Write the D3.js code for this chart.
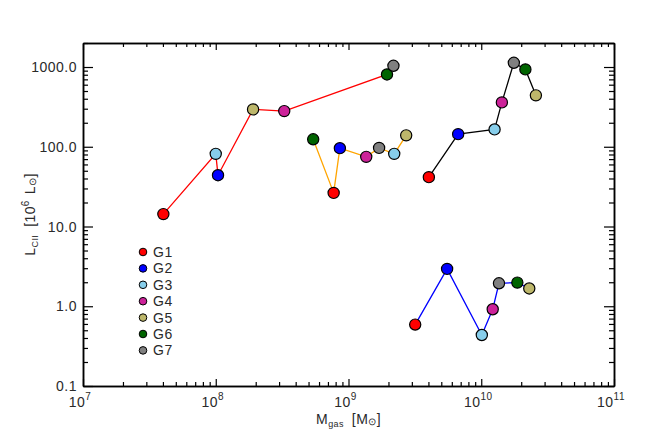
<!DOCTYPE html>
<html>
<head>
<meta charset="utf-8">
<script src="https://cdn.jsdelivr.net/npm/d3@7"></script>
<style>
	body { margin: 0; background: #fff; }
	text { font-family: "Liberation Sans", Arial, sans-serif; fill: #2a2a2a; }
</style>
</head>
<body>
<div id="graph"></div>
<script>
// Galaxies G1..G7, four runs each (one line per run)
const groups = ["G1", "G2", "G3", "G4", "G5", "G6", "G7"];
const groupColors = ["#FF0000", "#0000FF", "#87CEEB", "#CC2299", "#BDB76B", "#006400", "#808080"];

const lineColors = ["#FF0000", "#FFA500", "#000000", "#0000FF"];

// gas mass [Msun], in group order
const mass_1 = [4.03e7, 1.04e8, 1.0e8, 3.28e8, 1.91e8, 1.95e9, 2.18e9];
const mass_2 = [7.73e8, 8.61e8, 2.21e9, 1.36e9, 2.72e9, 5.42e8, 1.70e9];
const mass_3 = [4.03e9, 6.7e9, 1.26e10, 1.43e10, 2.58e10, 2.15e10, 1.76e10];
const mass_4 = [3.18e9, 5.53e9, 1.01e10, 1.22e10, 2.30e10, 1.87e10, 1.36e10];

// L_CII [1e6 Lsun], in group order
const lcii_1 = [14.3, 44, 81.5, 280, 294, 807, 1035];
const lcii_2 = [26.4, 96, 81.5, 74.7, 139, 124, 96.8];
const lcii_3 = [41.6, 144, 165, 360, 441, 933, 1130];
const lcii_4 = [0.589, 2.94, 0.436, 0.917, 1.67, 1.98, 1.94];

const xTicks = [1e7, 1e8, 1e9, 1e10, 1e11];
const yTicks = [0.1, 1, 10, 100, 1000];

const width = 664, height = 442;
const margin = {top: 43, right: 50, bottom: 56, left: 83};

let svg = d3.select("#graph")
	.append("svg")
	.attr("width", width)
	.attr("height", height);

let x = d3.scaleLog().domain([1e7, 1e11]).range([margin.left, width - margin.right]);
let y = d3.scaleLog().domain([0.1, 2000]).range([height - margin.bottom, margin.top]);

// minor ticks 2..9 in every decade
function minors(lo, hi) {
	let out = [];
	for (let d = lo; d < hi; d *= 10) {
		for (let k = 2; k <= 9; k++) {
			if (d * k <= hi) out.push(d * k);
		}
	}
	return out;
}
let xMinor = minors(1e7, 1e11);
let yMinor = minors(0.1, 2000);

function styleAxis(g) {
	g.select(".domain").attr("stroke", "#000").attr("stroke-width", 1.5);
	g.selectAll(".tick line").attr("stroke", "#000").attr("stroke-width", 1.2);
}

let x0 = height - margin.bottom, y0 = margin.top;
let xl = margin.left, xr = width - margin.right;

// bottom + top
svg.append("g").attr("transform", "translate(0," + x0 + ")")
	.call(d3.axisBottom(x).tickValues(xTicks).tickSize(-7).tickSizeOuter(0).tickFormat(""))
	.call(styleAxis);
svg.append("g").attr("transform", "translate(0," + x0 + ")")
	.call(d3.axisBottom(x).tickValues(xMinor).tickSize(-4).tickSizeOuter(0).tickFormat(""))
	.call(styleAxis);
svg.append("g").attr("transform", "translate(0," + y0 + ")")
	.call(d3.axisTop(x).tickValues(xTicks).tickSize(-7).tickSizeOuter(0).tickFormat(""))
	.call(styleAxis);
svg.append("g").attr("transform", "translate(0," + y0 + ")")
	.call(d3.axisTop(x).tickValues(xMinor).tickSize(-4).tickSizeOuter(0).tickFormat(""))
	.call(styleAxis);

// left + right
svg.append("g").attr("transform", "translate(" + xl + ",0)")
	.call(d3.axisLeft(y).tickValues(yTicks).tickSize(-10).tickSizeOuter(0).tickFormat(""))
	.call(styleAxis);
svg.append("g").attr("transform", "translate(" + xl + ",0)")
	.call(d3.axisLeft(y).tickValues(yMinor).tickSize(-5).tickSizeOuter(0).tickFormat(""))
	.call(styleAxis);
svg.append("g").attr("transform", "translate(" + xr + ",0)")
	.call(d3.axisRight(y).tickValues(yTicks).tickSize(-10).tickSizeOuter(0).tickFormat(""))
	.call(styleAxis);
svg.append("g").attr("transform", "translate(" + xr + ",0)")
	.call(d3.axisRight(y).tickValues(yMinor).tickSize(-5).tickSizeOuter(0).tickFormat(""))
	.call(styleAxis);

// x tick labels 10^n
let xLab = svg.append("g").selectAll("text").data(xTicks).enter()
	.append("text")
	.attr("x", function(d) {return x(d) - 3})
	.attr("y", x0 + 21)
	.style("text-anchor", "middle")
	.style("font-size", "14px")
	.style("letter-spacing", "0.5px");
xLab.append("tspan").text("10");
xLab.append("tspan")
	.attr("dy", -7)
	.style("font-size", "10px")
	.text(function(d) {return Math.round(Math.log10(d))});

// y tick labels
svg.append("g").selectAll("text").data(yTicks).enter()
	.append("text")
	.attr("x", xl - 6)
	.attr("y", function(d) {return y(d) + 5})
	.style("text-anchor", "end")
	.style("font-size", "14px")
	.style("letter-spacing", "0.5px")
	.text(function(d) {return d3.format(".1f")(d)});

// axis titles
let xt = svg.append("text")
	.attr("x", (xl + xr) / 2)
	.attr("y", x0 + 38)
	.style("text-anchor", "middle")
	.style("font-size", "14px")
	.style("letter-spacing", "0.4px");
xt.append("tspan").text("M");
xt.append("tspan").attr("dy", 3).style("font-size", "9px").text("gas");
xt.append("tspan").attr("dy", -3).attr("dx", 8).text("[M");
xt.append("tspan").attr("dy", 1).style("font-size", "10px").text("\u2299");
xt.append("tspan").attr("dy", -1).text("]");

let yt = svg.append("text")
	.attr("transform", "translate(35," + ((y0 + x0) / 2) + ")rotate(-90)")
	.style("text-anchor", "middle")
	.style("font-size", "14px")
	.style("letter-spacing", "0.4px");
yt.append("tspan").text("L");
yt.append("tspan").attr("dy", 3).style("font-size", "9px").text("CII");
yt.append("tspan").attr("dy", -3).attr("dx", 8).text("[10");
yt.append("tspan").attr("dy", -6).style("font-size", "10px").text("6");
yt.append("tspan").attr("dy", 6).attr("dx", 6).text("L");
yt.append("tspan").attr("dy", 1).style("font-size", "10px").text("\u2299");
yt.append("tspan").attr("dy", -1).text("]");

// runs
let runs = [[mass_1, lcii_1], [mass_2, lcii_2], [mass_3, lcii_3], [mass_4, lcii_4]];

let line = d3.line()
	.x(function(d) {return x(d.m)})
	.y(function(d) {return y(d.l)});

runs.forEach(function(r, i) {
	let pts = groups.map(function(g, j) {return {g: g, c: groupColors[j], m: r[0][j], l: r[1][j]}});
	let sorted = pts.slice().sort(function(a, b) {return a.m - b.m});

	svg.append("path")
		.datum(sorted)
		.attr("d", line)
		.attr("fill", "none")
		.attr("stroke", lineColors[i])
		.attr("stroke-width", 1.3);

	svg.append("g").selectAll("circle").data(pts).enter()
		.append("circle")
		.attr("cx", function(d) {return x(d.m)})
		.attr("cy", function(d) {return y(d.l)})
		.attr("r", 5.6)
		.attr("fill", function(d) {return d.c})
		.attr("stroke", "#000")
		.attr("stroke-width", 1.2);
});

// legend
let leg = svg.append("g").attr("transform", "translate(143,252)");
leg.selectAll("circle").data(groups).enter()
	.append("circle")
	.attr("cx", 0)
	.attr("cy", function(d, i) {return i * 16.4})
	.attr("r", 3.8)
	.attr("fill", function(d, i) {return groupColors[i]})
	.attr("stroke", "#000")
	.attr("stroke-width", 1);
leg.selectAll("text").data(groups).enter()
	.append("text")
	.attr("x", 10)
	.attr("y", function(d, i) {return i * 16.4 + 5})
	.style("font-size", "14px")
	.style("letter-spacing", "0.5px")
	.text(function(d) {return d});
</script>
</body>
</html>
